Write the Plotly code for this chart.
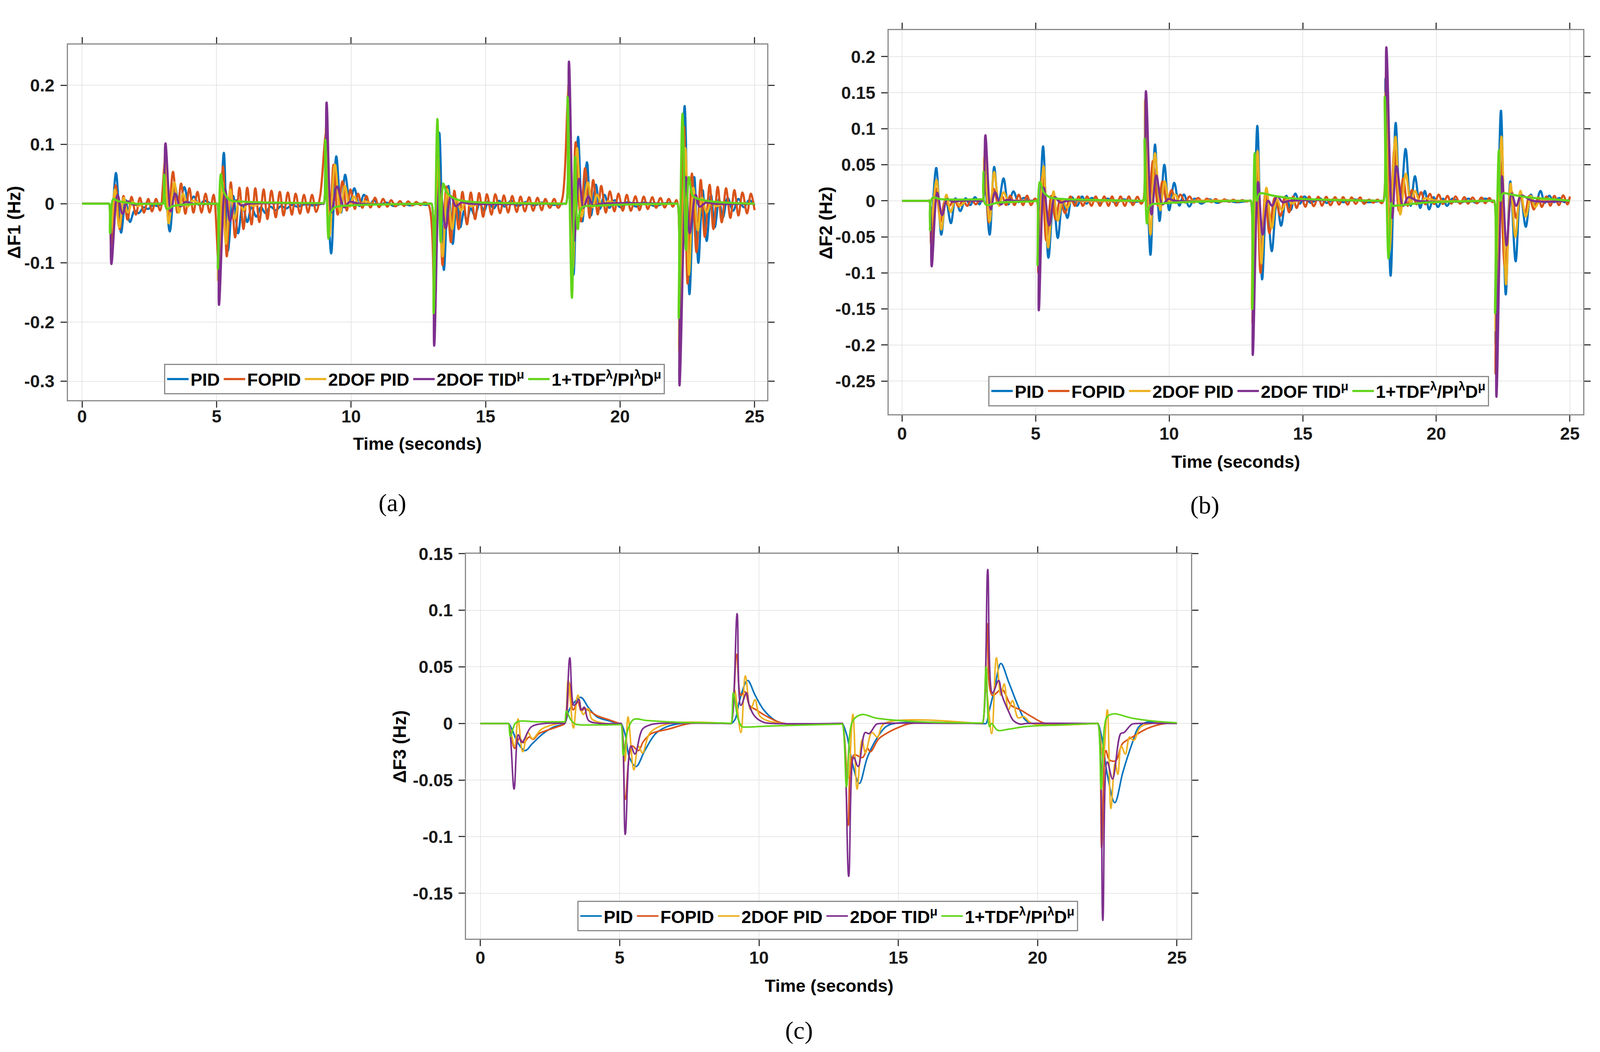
import plotly.graph_objects as go

# ---------------- data (t [s], value [Hz]) ----------------
SERIES_NAMES = ["PID", "FOPID", "2DOF PID", "2DOF TID<sup>μ</sup>",
                "1+TDF<sup>λ</sup>/PI<sup>λ</sup>D<sup>μ</sup>"]
SERIES_COLORS = ["#0072BD", "#D95319", "#EDB120", "#7E2F8E", "#62D41A"]

X_TICKS = [0, 5, 10, 15, 20, 25]
X_TICK_TEXT = ["0", "5", "10", "15", "20", "25"]
A_Y_TICKS = [-0.3, -0.2, -0.1, 0, 0.1, 0.2]
A_Y_TICK_TEXT = ["-0.3", "-0.2", "-0.1", "0", "0.1", "0.2"]
B_Y_TICKS = [-0.25, -0.2, -0.15, -0.1, -0.05, 0, 0.05, 0.1, 0.15, 0.2]
B_Y_TICK_TEXT = ["-0.25", "-0.2", "-0.15", "-0.1", "-0.05", "0", "0.05", "0.1", "0.15", "0.2"]
C_Y_TICKS = [-0.15, -0.1, -0.05, 0, 0.05, 0.1, 0.15]
C_Y_TICK_TEXT = ["-0.15", "-0.1", "-0.05", "0", "0.05", "0.1", "0.15"]

# ---- panel (a): ΔF1 ----
A_PID = [(0,0),(0.95,0),(1.0,0),(1.08,-0.045),(1.26,0.052),(1.45,-0.049),(1.62,0.006),(1.78,-0.031),(1.95,-0.012),(2.1,-0.016),(2.3,-0.006),(2.45,-0.009),(2.65,-0.002),(2.8,-0.004),(2.95,0.0),(3.0,0.0),
 (3.07,0.035),(3.26,-0.047),(3.45,0.03),(3.62,-0.006),(3.8,0.028),(3.98,0.0),(4.15,0.012),(4.35,-0.002),(4.55,0.005),(4.8,0.0),(4.97,0.0),(5.02,0.0),
 (5.08,-0.09),(5.27,0.086),(5.42,-0.08),(5.62,0.013),(5.8,-0.05),(5.97,-0.002),(6.14,-0.031),(6.3,-0.006),(6.48,-0.022),(6.65,-0.006),(6.82,-0.016),(7.0,-0.005),(7.2,-0.011),(7.4,-0.004),(7.6,-0.008),(7.8,-0.002),(8.0,-0.005),(8.3,-0.001),(8.6,-0.003),(8.93,0.0),(8.98,0.0),
 (9.05,0.1),(9.26,-0.084),(9.45,0.08),(9.63,-0.015),(9.78,0.049),(9.96,0.003),(10.12,0.026),(10.31,-0.004),(10.48,0.015),(10.68,-0.002),(10.85,0.006),(11.05,-0.003),(11.3,0.002),(11.6,-0.004),(11.9,0.0),(12.2,-0.003),(12.5,0.0),(12.8,-0.002),(12.94,0.0),(12.99,0.0),
 (13.1,-0.15),(13.28,0.12),(13.45,-0.112),(13.62,0.03),(13.78,-0.068),(13.93,0.008),(14.06,-0.04),(14.2,-0.012),(14.3,-0.031),(14.45,-0.008),(14.6,-0.02),(14.78,0.0),(14.95,-0.012),(15.1,0.004),(15.3,-0.008),(15.5,0.005),(15.7,-0.005),(15.95,0.005),(16.2,-0.004),(16.5,0.003),(16.8,-0.003),(17.1,0.002),(17.5,-0.002),(17.94,0.0),(17.99,0.0),
 (18.08,0.2),(18.27,-0.12),(18.44,0.113),(18.6,-0.03),(18.77,0.07),(18.92,-0.02),(19.1,0.032),(19.25,-0.009),(19.42,0.015),(19.6,-0.007),(19.8,0.006),(20.0,-0.006),(20.3,0.003),(20.6,-0.005),(20.9,0.002),(21.3,-0.004),(21.7,0.001),(22.08,0.0),(22.13,0.0),
 (22.2,-0.2),(22.4,0.165),(22.58,-0.153),(22.76,0.045),(22.91,-0.1),(23.07,0.023),(23.22,-0.063),(23.38,0.015),(23.52,-0.04),(23.68,0.008),(23.82,-0.024),(24.0,0.01),(24.2,-0.012),(24.4,0.008),(24.6,-0.006),(24.8,0.006),(25.0,-0.003)]

A_FOPID = [(0,0),(0.95,0),(1.0,0),(1.08,-0.07),(1.25,0.031),(1.40,-0.043),(1.54,0.013),(1.69,-0.027),(1.84,0.0115),(2.0,-0.0185),(2.15,0.010),(2.30,-0.015),(2.46,0.008),(2.60,-0.013),(2.75,0.008),(2.90,-0.0115),
 (3.08,0.07),(3.21,-0.026),(3.38,0.054),(3.54,-0.015),(3.68,0.034),(3.84,-0.017),(3.99,0.026),(4.14,-0.015),(4.29,0.02),(4.44,-0.015),(4.59,0.017),(4.74,-0.015),(4.89,0.015),
 (5.08,-0.1),(5.24,0.063),(5.38,-0.089),(5.53,0.036),(5.69,-0.057),(5.85,0.027),(6.0,-0.043),(6.14,0.027),(6.30,-0.035),(6.44,0.026),(6.59,-0.031),(6.75,0.024),(6.89,-0.026),(7.04,0.022),(7.2,-0.023),(7.35,0.02),(7.49,-0.02),(7.65,0.019),(7.8,-0.0185),(7.94,0.017),(8.1,-0.017),(8.25,0.015),(8.4,-0.015),(8.55,0.015),(8.7,-0.014),(8.85,0.013),
 (9.07,0.12),(9.2,-0.045),(9.35,0.066),(9.5,-0.0185),(9.68,0.038),(9.84,-0.0115),(9.98,0.024),(10.14,-0.009),(10.26,0.017),(10.42,-0.007),(10.57,0.013),(10.72,-0.0065),(10.89,0.010),(11.04,-0.006),(11.19,0.008),(11.35,-0.005),(11.49,0.006),(11.65,-0.0045),(11.82,0.0045),(11.97,-0.004),(12.12,0.004),(12.28,-0.003),(12.42,0.003),(12.58,-0.0025),(12.72,0.002),(12.88,-0.002),
 (13.1,-0.2),(13.24,0.08),(13.4,-0.104),(13.54,0.029),(13.71,-0.065),(13.84,0.022),(14.0,-0.043),(14.14,0.02),(14.31,-0.035),(14.45,0.019),(14.61,-0.026),(14.76,0.018),(14.91,-0.022),(15.05,0.016),(15.22,-0.0185),(15.36,0.016),(15.54,-0.016),(15.68,0.014),(15.84,-0.015),(15.99,0.013),(16.16,-0.014),(16.3,0.012),(16.46,-0.013),(16.62,0.011),(16.77,-0.012),(16.93,0.010),
 (17.09,-0.011),(17.22,0.008),(17.39,-0.007),(17.55,0.008),(17.7,-0.007),(17.85,0.008),
 (18.08,0.19),(18.22,-0.12),(18.35,0.104),(18.54,-0.03),(18.7,0.06),(18.87,-0.024),(19.0,0.04),(19.17,-0.018),(19.3,0.03),(19.47,-0.015),(19.62,0.021),(19.79,-0.013),(19.94,0.017),(20.1,-0.012),(20.25,0.015),(20.4,-0.012),(20.57,0.0125),(20.72,-0.011),(20.88,0.012),(21.03,-0.009),(21.2,0.011),(21.34,-0.007),(21.5,0.0098),(21.66,-0.0065),(21.81,0.008),(21.96,-0.005),(22.1,0.006),
 (22.22,-0.25),(22.38,0.13),(22.51,-0.135),(22.67,0.051),(22.84,-0.082),(23.0,0.04),(23.15,-0.056),(23.33,0.032),(23.47,-0.043),(23.63,0.0285),(23.78,-0.0315),(23.94,0.026),(24.1,-0.024),(24.25,0.023),(24.4,-0.02),(24.55,0.019),(24.72,-0.0165),(24.86,0.017),(25.0,-0.011)]

A_2DOF_PID = [(0,0),(0.95,0),(1.0,0),(1.07,-0.05),(1.22,0.024),(1.38,-0.04),(1.55,0.01),(1.7,-0.015),(1.88,0.003),(2.05,-0.004),(2.3,0.0),(2.95,0.0),(3.0,0.0),
 (3.08,0.08),(3.22,-0.033),(3.43,0.036),(3.6,-0.015),(3.75,0.017),(3.93,-0.005),(4.1,0.005),(4.4,0.0),(4.97,0.0),(5.02,0.0),
 (5.06,-0.13),(5.21,0.038),(5.35,-0.068),(5.51,0.024),(5.67,-0.026),(5.85,0.006),(6.0,-0.011),(6.17,0.002),(6.35,-0.004),(6.6,0.0),(8.93,0.0),(8.98,0.0),
 (9.07,0.13),(9.2,-0.054),(9.4,0.066),(9.6,-0.015),(9.77,0.03),(9.95,-0.005),(10.1,0.012),(10.3,-0.002),(10.5,0.004),(10.8,0.0),(12.94,0.0),(12.99,0.0),
 (13.08,-0.19),(13.22,0.075),(13.4,-0.089),(13.58,0.024),(13.76,-0.043),(13.92,0.008),(14.09,-0.0115),(14.25,0.003),(14.45,-0.004),(14.8,0.0),(17.94,0.0),(17.99,0.0),
 (18.08,0.2),(18.25,-0.11),(18.4,0.094),(18.58,-0.022),(18.8,0.036),(18.98,-0.006),(19.14,0.015),(19.35,-0.004),(19.55,0.004),(19.9,0.0),(22.08,0.0),(22.13,0.0),
 (22.2,-0.25),(22.43,0.094),(22.56,-0.12),(22.73,0.027),(22.89,-0.045),(23.05,0.01),(23.22,-0.015),(23.4,0.004),(23.55,-0.004),(23.9,0.0),(25.0,0.0)]

A_2DOF_TID = [(0,0),(0.95,0),(1.0,0),(1.09,-0.102),(1.32,0.015),(1.5,-0.017),(1.69,0.004),(1.9,-0.0015),(2.2,0.0),(2.95,0.0),(3.0,0.0),
 (3.1,0.102),(3.3,-0.013),(3.46,0.017),(3.65,-0.0045),(3.85,0.003),(4.1,0.0),(4.97,0.0),(5.02,0.0),
 (5.09,-0.171),(5.32,0.024),(5.5,-0.029),(5.72,0.0055),(5.92,-0.003),(6.2,0.0),(8.93,0.0),(8.98,0.0),
 (9.09,0.171),(9.27,-0.015),(9.48,0.029),(9.74,-0.006),(9.95,0.003),(10.3,0.0),(12.94,0.0),(12.99,0.0),
 (13.09,-0.24),(13.3,0.034),(13.52,-0.042),(13.71,0.013),(13.9,-0.0045),(14.1,0.002),(14.4,0.0),(17.94,0.0),(17.99,0.0),
 (18.1,0.24),(18.29,-0.063),(18.48,0.042),(18.64,-0.007),(18.82,0.012),(19.0,-0.003),(19.3,0.0),(22.08,0.0),(22.13,0.0),
 (22.21,-0.307),(22.45,0.045),(22.59,-0.05),(22.81,0.015),(22.96,-0.005),(23.2,0.002),(23.5,0.0),(25.0,0.0)]

A_TDF = [(0,0),(0.95,0),(1.0,0),(1.04,-0.05),(1.16,0.008),(1.3,0.005),(1.48,0.003),(2.0,0.0),(2.95,0),(3.0,0),
 (3.05,0.049),(3.15,-0.0087),(3.38,-0.004),(3.86,-0.0015),(4.65,0.0),(4.97,0),(5.02,0),
 (5.05,-0.11),(5.16,0.05),(5.27,0.02),(5.5,0.006),(5.98,0.0035),(7.3,0.0017),(8.93,0.001),(8.98,0.001),
 (9.04,0.108),(9.16,-0.059),(9.24,-0.015),(9.41,-0.006),(9.95,-0.003),(11.3,-0.001),(12.94,0),(12.99,0),
 (13.07,-0.185),(13.21,0.143),(13.33,-0.065),(13.43,0.034),(13.54,0.02),(13.79,0.01),(14.06,0.0055),(14.6,0.0027),(15.7,0.001),(17.94,0.0),(17.99,0.0),
 (18.05,0.18),(18.21,-0.159),(18.33,0.079),(18.43,-0.043),(18.57,-0.007),(19.09,-0.0035),(20.46,-0.001),(22.08,0),(22.13,0),
 (22.18,-0.193),(22.32,0.152),(22.45,-0.078),(22.56,0.045),(22.7,0.0135),(22.92,0.008),(23.47,0.0034),(24.29,0.001),(25.0,0.0)]

# ---- panel (b): ΔF2 ----
B_PID = [(0,0),(0.97,0),(1.02,0),(1.08,-0.035),(1.28,0.0455),(1.47,-0.047),(1.64,0.002),(1.83,-0.031),(2.0,0.0036),(2.18,-0.0144),(2.38,0.0036),(2.55,-0.006),(2.73,0.005),(2.9,-0.005),(2.97,0.0),(3.02,0.0),
 (3.08,0.04),(3.28,-0.047),(3.45,0.047),(3.61,-0.004),(3.8,0.031),(3.98,-0.005),(4.17,0.013),(4.36,-0.002),(4.55,0.004),(4.8,0.0),(5.0,0.0),(5.05,0.0),
 (5.1,-0.07),(5.28,0.0755),(5.48,-0.079),(5.67,0.0024),(5.83,-0.0516),(6.02,0.0024),(6.19,-0.024),(6.36,0.005),(6.55,-0.007),(6.74,0.006),(6.9,-0.004),(7.1,0.004),(7.4,-0.003),(7.7,0.003),(8.0,-0.003),(8.3,0.002),(8.6,-0.002),(8.98,0.0),(9.03,0.0),
 (9.1,0.12),(9.3,-0.075),(9.47,0.078),(9.64,-0.028),(9.82,0.05),(10.0,-0.013),(10.19,0.025),(10.38,-0.0068),(10.55,0.0087),(10.75,-0.008),(10.95,0.003),(11.2,-0.004),(11.5,0.002),(11.8,-0.003),(12.1,0.001),(12.5,-0.002),(13.0,0.0),(13.05,0.0),
 (13.12,-0.14),(13.3,0.104),(13.48,-0.109),(13.65,0.006),(13.84,-0.07),(14.03,0.0),(14.19,-0.0346),(14.39,0.007),(14.55,-0.013),(14.72,0.01),(14.9,-0.004),(15.06,0.006),(15.3,-0.003),(15.6,0.004),(15.9,-0.003),(16.2,0.003),(16.5,-0.002),(16.9,0.002),(17.4,-0.002),(17.97,0.0),(18.02,0.0),
 (18.1,0.17),(18.29,-0.104),(18.48,0.108),(18.65,-0.017),(18.85,0.072),(19.04,-0.007),(19.2,0.034),(19.4,-0.01),(19.57,0.0137),(19.73,-0.012),(19.9,0.005),(20.06,-0.0086),(20.25,0.003),(20.4,-0.007),(20.6,0.003),(20.9,-0.003),(21.2,0.003),(21.5,-0.003),(21.8,0.003),(22.11,0.0),(22.16,0.0),
 (22.22,-0.2),(22.42,0.125),(22.6,-0.13),(22.77,0.027),(22.97,-0.084),(23.15,0.01),(23.35,-0.036),(23.54,0.0086),(23.7,-0.007),(23.9,0.0137),(24.06,-0.003),(24.23,0.007),(24.4,-0.002),(24.6,0.004),(24.8,-0.002),(25.0,0.003)]

B_FOPID = [(0,0),(0.97,0),(1.02,0),(1.09,-0.06),(1.27,0.017),(1.45,-0.029),(1.61,0.0),(1.77,-0.007),(1.95,0.002),(2.12,-0.008),(2.28,0.001),(2.44,-0.007),(2.6,0.002),(2.76,-0.005),(2.92,0.002),(3.02,0.0),
 (3.1,0.07),(3.25,-0.03),(3.42,0.017),(3.61,-0.005),(3.75,0.006),(3.9,-0.006),(4.05,0.007),(4.21,-0.006),(4.37,0.0084),(4.53,-0.006),(4.68,0.007),(4.83,-0.006),(4.97,0.003),(5.05,0.0),
 (5.1,-0.1),(5.25,0.035),(5.4,-0.055),(5.59,0.007),(5.75,-0.026),(5.92,0.002),(6.1,-0.017),(6.3,0.006),(6.47,-0.007),(6.61,0.006),(6.77,-0.007),(6.93,0.006),(7.09,-0.007),(7.25,0.006),(7.41,-0.007),(7.57,0.006),(7.73,-0.007),(7.86,0.006),(8.02,-0.007),(8.18,0.006),(8.34,-0.007),(8.49,0.006),(8.64,-0.006),(8.81,0.0056),(8.95,-0.004),(9.03,0.0),
 (9.12,0.12),(9.24,-0.016),(9.39,0.055),(9.58,-0.0068),(9.75,0.027),(9.92,-0.0037),(10.09,0.015),(10.25,-0.003),(10.42,0.0086),(10.6,-0.0025),(10.76,0.006),(10.93,-0.0025),(11.08,0.004),(11.26,-0.002),(11.41,0.003),(11.58,-0.002),(11.74,0.0025),(11.9,-0.002),(12.07,0.002),(12.24,-0.0015),(12.4,0.0015),(12.57,-0.0015),(12.73,0.001),(12.9,-0.001),(13.05,0.0),
 (13.12,-0.17),(13.28,0.05),(13.42,-0.1),(13.6,0.01),(13.75,-0.045),(13.95,0.004),(14.17,-0.021),(14.33,0.0056),(14.49,-0.016),(14.64,0.006),(14.77,-0.01),(14.94,0.006),(15.1,-0.0083),(15.24,0.006),(15.41,-0.0074),(15.58,0.0056),(15.72,-0.0068),(15.88,0.0056),(16.04,-0.0062),(16.21,0.005),(16.36,-0.0053),(16.51,0.005),(16.68,-0.0053),(16.83,0.0046),(16.98,-0.0043),(17.15,0.0046),(17.29,-0.0043),(17.48,0.0017),(17.64,-0.0027),(17.8,0.0017),(17.95,-0.0034),(18.02,0.0),
 (18.12,0.18),(18.26,-0.06),(18.43,0.072),(18.6,-0.0137),(18.76,0.031),(18.93,-0.007),(19.09,0.015),(19.26,-0.005),(19.43,0.012),(19.59,-0.005),(19.76,0.0096),(19.92,-0.0045),(20.09,0.0086),(20.25,-0.0045),(20.42,0.0068),(20.56,-0.004),(20.72,0.006),(20.89,-0.004),(21.05,0.005),(21.19,-0.004),(21.36,0.0045),(21.52,-0.0037),(21.69,0.0045),(21.83,-0.0034),(21.99,0.004),(22.1,-0.002),(22.16,0.0),
 (22.22,-0.24),(22.38,0.06),(22.57,-0.092),(22.82,0.013),(22.99,-0.024),(23.15,0.0068),(23.32,-0.017),(23.48,0.0068),(23.65,-0.012),(23.82,0.005),(23.95,-0.0086),(24.12,0.006),(24.27,-0.0068),(24.42,0.0068),(24.59,-0.006),(24.75,0.0075),(24.91,-0.005),(25.0,0.006)]

B_2DOF_PID = [(0,0),(0.97,0),(1.02,0),(1.07,-0.04),(1.29,0.029),(1.47,-0.04),(1.66,0.0084),(1.82,-0.0156),(2.0,0.002),(2.17,-0.007),(2.4,0.0),(2.97,0.0),(3.02,0.0),
 (3.08,0.06),(3.28,-0.029),(3.45,0.04),(3.64,-0.007),(3.8,0.012),(4.0,-0.002),(4.2,0.0),(5.0,0.0),(5.05,0.0),
 (5.09,-0.08),(5.3,0.048),(5.47,-0.065),(5.67,0.013),(5.83,-0.0276),(6.02,0.0012),(6.18,-0.0096),(6.35,0.001),(6.5,0.0),(8.98,0.0),(9.03,0.0),
 (9.1,0.14),(9.3,-0.047),(9.47,0.066),(9.67,-0.013),(9.83,0.027),(10.02,-0.002),(10.22,0.0087),(10.4,-0.001),(10.8,0.0),(13.0,0.0),(13.05,0.0),
 (13.1,-0.15),(13.31,0.069),(13.45,-0.087),(13.64,0.018),(13.84,-0.0377),(14.03,0.002),(14.22,-0.013),(14.42,0.002),(14.6,-0.0037),(14.8,0.0),(17.97,0.0),(18.02,0.0),
 (18.1,0.15),(18.25,-0.068),(18.47,0.089),(18.65,-0.019),(18.86,0.0377),(19.04,-0.0034),(19.2,0.0137),(19.4,-0.0034),(19.57,0.0034),(20.0,0.0),(22.11,0.0),(22.16,0.0),
 (22.22,-0.18),(22.44,0.089),(22.61,-0.116),(22.78,0.024),(22.96,-0.05),(23.15,0.0137),(23.35,-0.022),(23.54,0.0068),(23.7,-0.0086),(23.9,0.0),(25.0,0.0)]

B_2DOF_TID = [(0,0),(0.97,0),(1.02,0),(1.11,-0.091),(1.32,0.011),(1.5,-0.02),(1.69,0.0024),(1.88,-0.0012),(2.2,0.0),(2.97,0.0),(3.02,0.0),
 (3.12,0.091),(3.32,-0.012),(3.48,0.012),(3.69,-0.005),(3.9,0.001),(4.2,0.0),(5.0,0.0),(5.05,0.0),
 (5.12,-0.152),(5.31,0.018),(5.51,-0.034),(5.72,0.005),(5.92,-0.0024),(6.2,0.0),(8.98,0.0),(9.03,0.0),
 (9.13,0.152),(9.34,-0.019),(9.52,0.035),(9.75,-0.005),(9.97,0.0025),(10.2,0.0),(13.0,0.0),(13.05,0.0),
 (13.13,-0.214),(13.33,0.026),(13.5,-0.047),(13.7,0.0),(13.85,-0.007),(14.05,0.006),(14.25,-0.002),(14.5,0.0),(17.97,0.0),(18.02,0.0),
 (18.13,0.213),(18.35,-0.024),(18.51,0.048),(18.76,-0.007),(18.96,0.005),(19.3,0.0),(22.11,0.0),(22.16,0.0),
 (22.25,-0.272),(22.46,0.034),(22.63,-0.062),(22.82,0.01),(22.99,-0.007),(23.18,0.007),(23.6,0.0),(25.0,0.0)]

B_TDF = [(0,0),(0.97,0),(1.02,0),(1.05,-0.041),(1.13,0.0036),(1.5,0.002),(2.97,0.002),(3.02,0.002),
 (3.05,0.04),(3.13,-0.005),(3.61,-0.0024),(4.95,-0.0005),(5.0,0.0),(5.05,0.0),
 (5.07,-0.089),(5.16,0.026),(5.3,0.012),(5.54,0.0048),(6.02,0.0024),(7.4,0.001),(8.98,0.0),(9.03,0.0),
 (9.08,0.086),(9.17,-0.0315),(9.28,-0.0068),(9.75,-0.0037),(10.85,-0.0015),(13.0,0.0),(13.05,0.0),
 (13.11,-0.15),(13.2,0.066),(13.28,0.0),(13.39,0.01),(13.89,0.0071),(14.44,0.004),(15.27,0.002),(16.37,0.0008),(17.97,0.0),(18.02,0.0),
 (18.07,0.144),(18.21,-0.08),(18.32,-0.0034),(18.36,-0.007),(18.46,-0.0068),(18.96,-0.005),(19.51,-0.0027),(20.34,-0.0014),(22.11,0.0),(22.16,0.0),
 (22.2,-0.156),(22.34,0.07),(22.41,0.0),(22.49,0.01),(22.82,0.0086),(23.37,0.005),(24.48,0.0017),(25.0,0.0)]

# ---- panel (c): ΔF3 ----
C_PID = [(0,0),(0.96,0),(1.01,0),(1.15,-0.006),(1.3,-0.015),(1.6,-0.024),(1.87,-0.0177),(2.25,-0.009),(2.64,-0.003),(2.95,-0.001),(3.03,0.0),
 (3.19,0.012),(3.35,0.018),(3.61,0.023),(3.88,0.014),(4.19,0.0058),(4.58,0.0026),(5.0,0.0),(5.05,0.0),
 (5.2,-0.01),(5.35,-0.03),(5.59,-0.038),(5.9,-0.024),(6.29,-0.009),(6.68,-0.003),(7.2,0.0),(8.95,0.0),(9.0,0.0),
 (9.15,0.004),(9.3,0.02),(9.59,0.038),(9.86,0.025),(10.17,0.012),(10.56,0.003),(10.9,0.0),(12.94,0.0),(12.99,0.0),
 (13.15,-0.01),(13.35,-0.035),(13.6,-0.053),(13.89,-0.03),(14.22,-0.0135),(14.55,-0.003),(14.87,0.0),(17.97,0.0),(18.02,0.0),
 (18.15,0.0),(18.25,0.01),(18.45,0.03),(18.68,0.053),(18.97,0.036),(19.29,0.016),(19.54,0.0036),(19.8,0.0),(22.11,0.0),(22.16,0.0),
 (22.3,-0.012),(22.5,-0.045),(22.77,-0.07),(23.06,-0.043),(23.39,-0.0177),(23.63,-0.003),(23.9,0.001),(25.0,0.0)]

C_FOPID = [(0,0),(0.96,0),(1.01,0),(1.23,-0.022),(1.4,-0.013),(1.55,-0.017),(1.75,-0.012),(1.9,-0.014),(2.1,-0.009),(2.4,-0.006),(2.87,-0.002),(3.03,0.0),
 (3.19,0.036),(3.33,0.012),(3.5,0.019),(3.62,0.011),(3.75,0.013),(4.19,0.0068),(4.58,0.0036),(5.0,0.0),(5.05,0.0),
 (5.2,-0.067),(5.44,-0.02),(5.67,-0.024),(5.85,-0.016),(6.13,-0.009),(6.75,-0.005),(7.53,0.0),(8.95,0.0),(9.0,0.0),
 (9.2,0.061),(9.35,0.025),(9.5,0.028),(9.66,0.016),(9.9,0.012),(10.3,0.006),(10.9,0.0),(12.94,0.0),(12.99,0.0),
 (13.2,-0.09),(13.4,-0.028),(13.72,-0.03),(13.89,-0.022),(14.0,-0.025),(14.3,-0.0135),(14.63,-0.008),(14.96,-0.004),(15.45,0.0),(17.97,0.0),(18.02,0.0),
 (18.2,0.088),(18.37,0.025),(18.72,0.03),(19.05,0.016),(19.38,0.012),(19.8,0.0058),(20.28,0.0),(22.11,0.0),(22.16,0.0),
 (22.3,-0.11),(22.45,-0.024),(22.57,-0.032),(22.8,-0.033),(23.04,-0.018),(23.4,-0.012),(23.98,-0.004),(24.6,0.0),(25.0,0.0)]

C_2DOF_PID = [(0,0),(0.96,0),(1.01,0),(1.23,-0.02),(1.35,0.004),(1.52,-0.025),(1.71,-0.008),(1.87,-0.0135),(2.2,-0.005),(2.8,0.0),(2.98,0.0),(3.03,0.0),
 (3.15,0.038),(3.34,-0.004),(3.5,0.025),(3.69,0.008),(3.88,0.013),(4.0,0.004),(4.5,0.0),(5.0,0.0),(5.05,0.0),
 (5.19,-0.033),(5.3,0.0058),(5.51,-0.041),(5.67,-0.02),(5.82,-0.026),(6.1,-0.008),(6.8,0.0),(8.95,0.0),(9.0,0.0),
 (9.12,0.03),(9.35,-0.008),(9.51,0.042),(9.7,0.012),(9.86,0.021),(10.05,0.006),(10.8,0.0),(12.94,0.0),(12.99,0.0),
 (13.2,-0.048),(13.37,0.008),(13.52,-0.058),(13.7,-0.0145),(13.82,-0.026),(14.05,-0.008),(14.25,-0.012),(14.5,0.0),(17.97,0.0),(18.02,0.0),
 (18.15,0.03),(18.35,-0.009),(18.52,0.058),(18.68,0.025),(18.8,0.035),(18.95,0.012),(19.1,0.02),(19.3,0.005),(19.5,0.006),(19.8,0.0),(22.11,0.0),(22.16,0.0),
 (22.35,-0.03),(22.5,0.012),(22.63,-0.075),(22.78,-0.035),(22.88,-0.045),(23.0,-0.02),(23.15,-0.027),(23.3,-0.012),(23.45,-0.015),(23.7,-0.003),(24.1,0.0),(25.0,0.0)]

C_2DOF_TID = [(0,0),(0.96,0),(1.01,0),(1.21,-0.058),(1.36,-0.01),(1.49,-0.0167),(1.83,-0.003),(2.3,0.0),(2.98,0.0),(3.03,0.0),
 (3.21,0.058),(3.36,0.016),(3.535,0.021),(3.62,0.012),(3.73,0.0143),(3.885,0.0026),(4.3,0.0),(5.0,0.0),(5.05,0.0),
 (5.2,-0.098),(5.4,-0.02),(5.55,-0.027),(5.82,-0.005),(6.13,-0.001),(6.4,0.0),(8.95,0.0),(9.0,0.0),
 (9.215,0.097),(9.35,0.016),(9.55,0.027),(9.65,0.016),(9.86,0.006),(10.17,0.001),(10.5,0.0),(12.94,0.0),(12.99,0.0),
 (13.22,-0.135),(13.4,-0.03),(13.56,-0.038),(13.81,-0.008),(13.95,-0.009),(14.22,-0.0006),(14.4,0.0),(17.97,0.0),(18.02,0.0),
 (18.21,0.136),(18.38,0.027),(18.6,0.038),(18.72,0.025),(18.97,0.01),(19.13,0.0026),(19.38,-0.0006),(19.6,0.0),(22.11,0.0),(22.16,0.0),
 (22.34,-0.174),(22.5,-0.034),(22.69,-0.049),(22.98,-0.009),(23.1,-0.008),(23.39,-0.0006),(23.6,0.0),(25.0,0.0)]

C_TDF = [(0,0),(0.96,0),(1.01,0),(1.075,-0.0113),(1.25,0.0),(1.4,0.002),(2.0,0.0015),(2.98,0.0015),(3.03,0.0015),
 (3.09,0.011),(3.25,0.003),(3.42,-0.0006),(4.04,-0.0013),(5.0,-0.001),(5.05,-0.001),
 (5.13,-0.028),(5.3,-0.005),(5.51,0.0036),(5.98,0.0026),(7.14,0.001),(8.95,0.0002),(9.0,0.0),
 (9.08,0.027),(9.25,0.004),(9.39,-0.0028),(9.55,-0.0032),(10.25,-0.0024),(11.8,-0.0013),(12.94,-0.0006),(12.99,-0.0006),
 (13.14,-0.056),(13.28,-0.005),(13.4,0.0036),(13.69,0.0079),(14.22,0.0047),(15.04,0.0026),(16.26,0.001),(17.97,0.0004),(18.02,0.0004),
 (18.15,0.05),(18.27,-0.0028),(18.35,0.0),(18.56,-0.006),(18.97,-0.005),(19.54,-0.0028),(20.77,-0.0013),(22.11,0.0),(22.16,0.0),
 (22.28,-0.058),(22.4,-0.0028),(22.5,0.006),(22.73,0.0085),(23.39,0.0047),(24.21,0.002),(25.0,0.0006)]

PANELS = [
    dict(series=[A_PID, A_FOPID, A_2DOF_PID, A_2DOF_TID, A_TDF], xa="x", ya="y", legend="legend", width=5.5),
    dict(series=[B_PID, B_FOPID, B_2DOF_PID, B_2DOF_TID, B_TDF], xa="x2", ya="y2", legend="legend2", width=5.5),
    dict(series=[C_PID, C_FOPID, C_2DOF_PID, C_2DOF_TID, C_TDF], xa="x3", ya="y3", legend="legend3", width=4.0),
]

# ---------------- figure ----------------
W, H = 4294, 2692            # reference size; positions below are in its pixels
SANS = "Liberation Sans, Arial, Helvetica, sans-serif"
SERIF = "Liberation Serif, DejaVu Serif, serif"

fig = go.Figure()
for p in PANELS:
    for name, color, pts in zip(SERIES_NAMES, SERIES_COLORS, p["series"]):
        fig.add_trace(go.Scatter(
            x=[q[0] for q in pts], y=[q[1] for q in pts], mode="lines", name=name,
            line=dict(color=color, width=p["width"], shape="spline", smoothing=1.0),
            xaxis=p["xa"], yaxis=p["ya"], legend=p["legend"], showlegend=True))

def px_x(v):
    return v / W

def px_y(v):
    return 1 - v / H

def axis_common():
    return dict(showline=True, linecolor="#8a8a8a", linewidth=3, mirror="ticks",
                ticks="outside", ticklen=16, tickwidth=3, tickcolor="#3a3a3a",
                showgrid=True, gridcolor="#e6e6e6", gridwidth=2, zeroline=False,
                tickfont=dict(family=SANS, size=45, color="#1a1a1a", weight="bold"))

def xaxis(dom, rng, anchor, standoff):
    d = axis_common()
    d.update(domain=dom, range=rng, tickvals=X_TICKS, ticktext=X_TICK_TEXT,
             anchor=anchor, ticklabelstandoff=standoff)
    return d

def yaxis(dom, rng, vals, text, anchor):
    d = axis_common()
    d.update(domain=dom, range=rng, tickvals=vals, ticktext=text, anchor=anchor,
             ticklabelstandoff=6)
    return d

legend_style = dict(orientation="h", xanchor="center", yanchor="middle", bgcolor="white",
                    bordercolor="#8a8a8a", borderwidth=3,
                    font=dict(family=SANS, size=45, color="black", weight="bold"),
                    itemwidth=55, tracegroupgap=0)

fig.update_layout(
    autosize=True, margin=dict(l=0, r=0, t=0, b=0, pad=0),
    paper_bgcolor="white", plot_bgcolor="white", showlegend=True,
    xaxis=xaxis([px_x(182), px_x(2059)], [-0.53, 25.47], "y", -16),
    yaxis=yaxis([px_y(1008.6), px_y(89.5)], [-0.332, 0.269], A_Y_TICKS, A_Y_TICK_TEXT, "x"),
    xaxis2=xaxis([px_x(2385), px_x(4249)], [-0.5, 25.5], "y2", -8),
    yaxis2=yaxis([px_y(1044.6), px_y(52)], [-0.296, 0.237], B_Y_TICKS, B_Y_TICK_TEXT, "x2"),
    xaxis3=xaxis([px_x(1251), px_x(3196)], [-0.51, 25.5], "y3", -9),
    yaxis3=yaxis([px_y(2399), px_y(1404.8)], [-0.19, 0.15], C_Y_TICKS, C_Y_TICK_TEXT, "x3"),
    legend=dict(legend_style, x=px_x(1112), y=px_y(954)),
    legend2=dict(legend_style, x=px_x(3324), y=px_y(985)),
    legend3=dict(legend_style, x=px_x(2221), y=px_y(2341)),
)

LABELS = [
    ("Time (seconds)", 1120, 1121, 0, 45, SANS, "bold"),
    ("ΔF1 (Hz)", 38, 549, -90, 46, SANS, "bold"),
    ("Time (seconds)", 3316, 1167, 0, 45, SANS, "bold"),
    ("ΔF2 (Hz)", 2216, 551, -90, 46, SANS, "bold"),
    ("Time (seconds)", 2225, 2521, 0, 45, SANS, "bold"),
    ("ΔF3 (Hz)", 1073, 1904, -90, 46, SANS, "bold"),
    ("(a)", 1053, 1273, 0, 64, SERIF, "normal"),
    ("(b)", 3234, 1279, 0, 64, SERIF, "normal"),
    ("(c)", 2144, 2636, 0, 64, SERIF, "normal"),
]
for text, x, y, ang, size, fam, wt in LABELS:
    fig.add_annotation(text=text, x=px_x(x), y=px_y(y), xref="paper", yref="paper",
                       showarrow=False, textangle=ang, xanchor="center", yanchor="middle",
                       font=dict(family=fam, size=size, color="black", weight=wt))

# the figure fills the browser viewport exactly (no page margin, no scrollbars)
POST = "document.body.style.margin='0';document.body.style.overflow='hidden';"

fig.write_html("out.html", default_width="100vw", default_height="100vh",
               config={"displayModeBar": False}, post_script=POST)
